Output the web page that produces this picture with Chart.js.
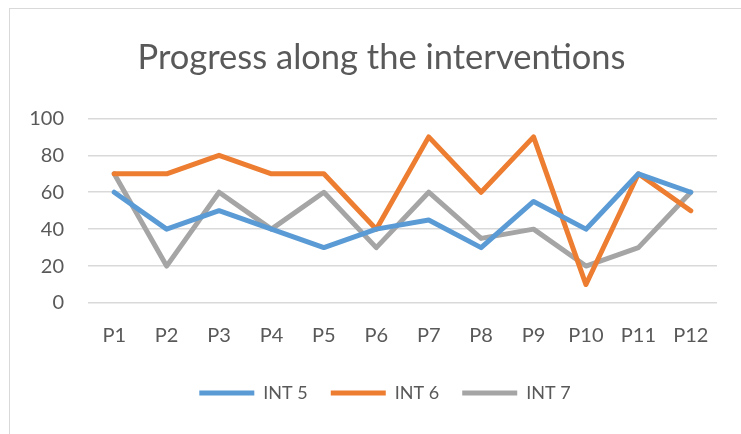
<!DOCTYPE html>
<html>
<head>
<meta charset="utf-8">
<script src="https://cdn.jsdelivr.net/npm/chart.js@4/dist/chart.umd.min.js"></script>
<style>
  html, body { margin: 0; padding: 0; background: #fff; }
  #wrap { position: relative; width: 741px; height: 434px; overflow: hidden; }
  #frame { position: absolute; left: 9px; top: 8px; width: 800px; height: 500px; border: 1.5px solid #d9d9d9; box-sizing: border-box; }
  #wrap canvas { position: absolute; left: 0; top: 0; }
</style>
</head>
<body>
<div id="wrap">
  <div id="frame"></div>
  <canvas id="chart" width="741" height="434"></canvas>
</div>
<script>
const periods = ['P1', 'P2', 'P3', 'P4', 'P5', 'P6', 'P7', 'P8', 'P9', 'P10', 'P11', 'P12'];
const int5 = [60, 40, 50, 40, 30, 40, 45, 30, 55, 40, 70, 60];
const int6 = [70, 70, 80, 70, 70, 40, 90, 60, 90, 10, 70, 50];
const int7 = [70, 20, 60, 40, 60, 30, 60, 35, 40, 20, 30, 60];
const yTicks = [0, 20, 40, 60, 80, 100];

const fontName = 'Lato, "Open Sans", sans-serif';
const textColor = '#595959';

function makeLine(label, data, color) {
  return {
    label: label,
    data: data,
    borderColor: color,
    backgroundColor: color,
    borderWidth: 5,
    borderCapStyle: 'round',
    borderJoinStyle: 'round',
    pointRadius: 0,
    tension: 0,
    fill: false
  };
}

// titel en legenda iets naar rechts schuiven, zoals in het origineel
const shiftBlocks = {
  id: 'shiftBlocks',
  afterLayout(chart) {
    chart.titleBlock.left += 36;
    chart.legend.left += 43;
  }
};

new Chart(document.getElementById('chart'), {
  type: 'line',
  data: {
    labels: periods,
    datasets: [
      makeLine('INT 5', int5, '#5b9bd5'),
      makeLine('INT 6', int6, '#ed7d31'),
      makeLine('INT 7', int7, '#a5a5a5')
    ]
  },
  plugins: [shiftBlocks],
  options: {
    responsive: false,
    animation: false,
    layout: { padding: { left: 10, right: 24, top: 9, bottom: 22 } },
    plugins: {
      title: {
        display: true,
        text: 'Progress along the interventions',
        color: textColor,
        font: { family: fontName, size: 34.5, weight: 'normal' },
        padding: { top: 28, bottom: 40 }
      },
      legend: {
        position: 'bottom',
        labels: {
          usePointStyle: true,
          pointStyle: 'line',
          pointStyleWidth: 55,
          boxHeight: 5,
          padding: 23,
          color: textColor,
          font: { family: fontName, size: 18 }
        }
      },
      tooltip: { enabled: false }
    },
    scales: {
      x: {
        offset: true,
        grid: { display: false },
        border: { display: false },
        ticks: { color: textColor, font: { family: fontName, size: 20 }, padding: 13 }
      },
      y: {
        min: 0,
        max: 100,
        afterBuildTicks: function (scale) {
          scale.ticks = yTicks.map(v => ({ value: v }));
        },
        afterFit: function (scale) {
          scale.width = 78;
        },
        grid: { color: '#d9d9d9', lineWidth: 1.5, drawTicks: false },
        border: { display: false },
        ticks: { color: textColor, font: { family: fontName, size: 20 }, padding: 24 }
      }
    }
  }
});
</script>
</body>
</html>
